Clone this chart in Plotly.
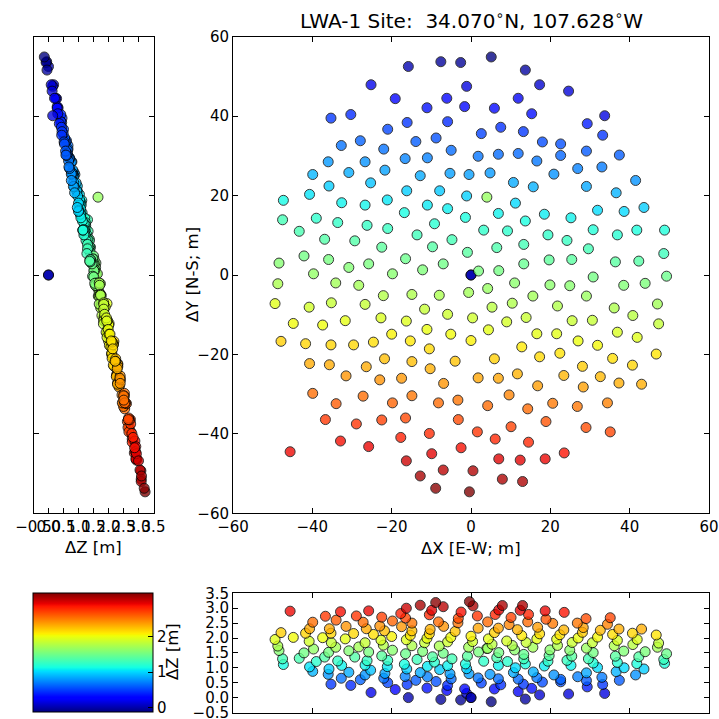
import plotly.graph_objects as go

# ---- data: antenna stand offsets (m) ----
x_ew = [
    -15.8, -7.6, -2.6, -25.2, -19.1, -11.1, -6.1, -1.1, -1.6, -35.3,
    -30.3, -21.0, -16.1, -5.9, -32.7, -27.9, -22.0, -13.9, -8.8, -5.0,
    -36.0, -26.7, -16.6, -11.0, -39.9, -30.8, -21.7, -12.8, -5.3, -0.5,
    -35.8, -25.3, -40.7, -47.3, -32.6, -26.7, -21.1, -16.2, -7.9, -1.1,
    -16.8, -11.0, -5.9, -1.4, -47.5, -39.0, -33.6, -26.2, -21.0, -43.3,
    -13.6, -9.2, -36.9, -29.3, -22.5, -9.7, -4.8, -0.9, -48.4, -42.1,
    -35.9, -30.8, -25.8, -16.5, -7.0, -12.2, -19.8, -39.7, 0.0, 0.0,
    5.1, 13.7, 17.3, 24.6, 11.9, 5.9, 15.3, 33.7, 29.3, 2.6,
    7.5, 13.2, 33.2, 18.0, 22.6, 1.8, 6.9, 11.9, 16.6, 22.6,
    29.1, 37.4, 4.8, 10.7, 15.7, 20.9, 26.9, 33.0, 29.1, 41.5,
    36.6, 4.0, 11.2, 6.9, 13.7, 18.5, 25.2, 31.9, 38.6, 43.6,
    3.2, 9.2, 19.4, 24.2, 30.8, 36.9, 41.8, 48.8, 6.5, 13.3,
    29.6, 48.6, 1.9, 7.0, 13.3, 19.7, 25.4, 36.4, 42.3, 49.3,
    30.8,
    -0.6, 4.2, 11.0, 19.9, 24.9, 29.1, 38.5, 43.9, 15.6, 5.3,
    10.4, 21.8, 36.1, 40.8, 47.0, 0.4, 9.0, 13.9, 25.5, 30.6,
    47.3, 4.4, 0.0, 16.6, 21.6, 27.0, 31.9, 36.9, 41.9, 46.7,
    5.9, 12.8, 17.3, 22.4, 28.1, 35.7, 40.7, 1.8, 6.9, 11.7,
    16.8, 23.4, 28.3, 32.6, 37.3, 43.0, 9.6, 4.2, 14.3, 20.6,
    26.8, 34.4, 18.9, 10.1, 1.6, 6.1, 14.5, 29.0, 35.1, 23.5,
    7.0, 12.4, 18.7, 0.5, 7.9, 13.0, -0.4,
    -48.7, -34.1, -28.3, -22.1, -14.9, -8.0, -49.4, -40.8, -35.2, -26.7,
    -11.7, -5.9, -44.8, -37.4, -31.7, -22.7, -16.3, -11.1, -5.1, -20.0,
    -47.9, -41.7, -35.3, -29.6, -24.6, -15.3, -10.5, -40.7, -35.7, -31.5,
    -26.4, -21.8, -14.9, -10.3, -4.0, -23.0, -17.5, -6.9, -39.9, -34.0,
    -27.2, -19.8, -14.9, -8.2, -3.3, -36.7, -28.9, -22.5, -16.5, -3.2,
    -10.5, -32.9, -25.8, -17.7, -45.6, -9.9, -2.5, -16.3, -7.0, -12.8,
    -8.9,
]
y_ns = [
    52.5, 53.7, 53.5, 47.9, 44.4, 42.1, 44.5, 47.5, 42.4, 39.5,
    40.4, 36.7, 38.4, 38.6, 32.6, 33.8, 31.7, 33.6, 34.5, 31.4,
    28.5, 28.5, 29.3, 29.5, 25.3, 25.8, 26.4, 25.0, 25.6, 25.3,
    22.4, 23.2, 20.3, 18.8, 18.2, 17.6, 18.9, 21.2, 21.2, 19.9,
    15.7, 17.6, 16.7, 14.5, 13.9, 14.3, 13.2, 12.5, 11.7, 11.0,
    10.1, 12.9, 9.0, 8.6, 7.0, 7.1, 8.9, 5.7, 3.0, 4.8,
    3.9, 1.9, 2.8, 4.1, 2.8, 1.3, 0.3, 0.3, 0.0, 0.0,
    54.9, 51.6, 47.9, 46.3, 44.5, 42.0, 40.6, 40.1, 38.1, 35.6,
    37.2, 36.1, 35.2, 33.5, 33.0, 29.9, 30.4, 30.6, 28.7, 30.1,
    31.2, 30.2, 25.7, 23.3, 22.2, 25.4, 26.8, 27.2, 22.3, 23.8,
    20.7, 19.6, 18.1, 15.5, 13.6, 15.3, 14.4, 16.3, 16.0, 17.0,
    11.3, 11.1, 10.1, 8.7, 11.4, 10.1, 11.3, 11.3, 6.9, 7.7,
    6.6, 5.4, 1.0, 1.1, 2.8, 3.8, 3.9, 3.3, 3.5, -0.3,
    -0.5,
    -4.4, -3.4, -2.0, -2.5, -2.7, -5.3, -2.6, -2.1, -5.3, -8.1,
    -7.1, -7.8, -8.3, -10.2, -7.3, -10.8, -11.8, -10.7, -11.5, -11.4,
    -12.3, -13.8, -16.5, -14.8, -14.8, -16.6, -17.7, -14.4, -15.7, -19.9,
    -21.1, -18.1, -20.6, -19.7, -23.0, -21.0, -22.7, -25.9, -26.0, -24.9,
    -27.9, -25.3, -28.2, -25.6, -27.2, -27.5, -30.2, -32.9, -33.7, -32.3,
    -33.1, -32.2, -36.9, -38.2, -39.5, -41.3, -42.1, -38.4, -39.5, -44.8,
    -46.3, -46.6, -46.3, -49.3, -51.4, -52.0, -54.6,
    -2.2, -2.0, -2.6, -5.2, -4.9, -5.1, -7.2, -8.1, -7.0, -7.4,
    -8.6, -9.9, -12.2, -12.6, -11.5, -10.8, -11.6, -13.7, -14.9, -14.9,
    -16.7, -17.3, -17.6, -17.6, -16.9, -16.6, -18.6, -22.3, -22.6, -25.4,
    -23.1, -21.1, -21.8, -23.6, -21.7, -26.4, -26.0, -27.3, -29.8, -32.4,
    -30.5, -32.2, -30.4, -32.2, -31.5, -36.4, -37.5, -36.5, -36.0, -36.4,
    -39.9, -41.8, -43.2, -40.9, -44.5, -45.0, -43.5, -46.8, -49.1, -50.6,
    -53.7,
]
z_el = [
    0.00, -0.06, -0.08, 0.17, 0.27, 0.32, 0.24, 0.14, 0.29, 0.45,
    0.41, 0.50, 0.44, 0.41, 0.65, 0.60, 0.65, 0.58, 0.54, 0.63,
    0.78, 0.76, 0.71, 0.70, 0.88, 0.85, 0.81, 0.84, 0.80, 0.80,
    0.96, 0.92, 1.03, 1.11, 1.08, 1.09, 1.04, 0.96, 0.94, 0.97,
    1.12, 1.05, 1.07, 1.13, 1.30, 1.21, 1.23, 1.24, 1.25, 1.32,
    1.28, 1.19, 1.36, 1.36, 1.40, 1.37, 1.30, 1.39, 1.58, 1.50,
    1.52, 1.57, 1.53, 1.47, 1.49, 1.55, 1.59, 1.63, 0.00, 0.00,
    -0.14, -0.05, 0.09, 0.12, 0.20, 0.29, 0.31, 0.14, 0.36, 0.49,
    0.43, 0.45, 0.44, 0.52, 0.53, 0.66, 0.63, 0.62, 0.67, 0.61,
    0.57, 0.58, 0.78, 0.84, 0.86, 0.76, 0.70, 0.68, 0.83, 0.76,
    0.87, 1.65, 1.00, 1.08, 1.13, 1.06, 1.08, 1.01, 1.00, 0.96,
    1.22, 1.21, 1.22, 1.25, 1.16, 1.18, 1.14, 1.15, 1.34, 1.30,
    1.30, 1.28, 1.53, 1.51, 1.45, 1.41, 1.39, 1.39, 1.37, 1.47,
    1.51,
    1.69, 1.65, 1.60, 1.60, 1.59, 1.66, 1.56, 1.54, 1.69, 1.79,
    1.75, 1.75, 1.74, 1.78, 1.69, 1.88, 1.90, 1.85, 1.85, 1.84,
    1.83, 1.97, 2.06, 1.97, 1.96, 2.00, 2.03, 1.92, 1.95, 2.10,
    2.18, 2.08, 2.14, 2.11, 2.19, 2.12, 2.16, 2.33, 2.33, 2.28,
    2.36, 2.27, 2.35, 2.26, 2.30, 2.30, 2.45, 2.54, 2.54, 2.49,
    2.50, 2.46, 2.63, 2.69, 2.74, 2.79, 2.79, 2.65, 2.68, 2.86,
    2.94, 2.93, 2.91, 3.08, 3.09, 3.09, 3.22,
    1.73, 1.69, 1.70, 1.76, 1.74, 1.73, 1.95, 1.89, 1.84, 1.84,
    1.84, 1.87, 2.02, 2.01, 1.97, 1.93, 1.94, 1.99, 2.02, 2.05,
    2.18, 2.16, 2.16, 2.15, 2.12, 2.09, 2.14, 2.31, 2.31, 2.39,
    2.31, 2.24, 2.24, 2.29, 2.22, 2.40, 2.38, 2.39, 2.53, 2.60,
    2.53, 2.57, 2.50, 2.54, 2.51, 2.73, 2.74, 2.70, 2.67, 2.66,
    2.78, 2.88, 2.91, 2.82, 2.90, 2.93, 2.87, 3.00, 3.05, 3.10,
    3.19,
]

title_text = "LWA-1 Site:  34.070<sup>∘</sup>N, 107.628<sup>∘</sup>W"
xy_ticks = [-60, -40, -20, 0, 20, 40, 60]
z_ticks = [-0.5, 0.0, 0.5, 1.0, 1.5, 2.0, 2.5, 3.0, 3.5]
cb_ticks = [0, 1, 2]

# ---- styling ----
W = H = 719
FONT = "DejaVu Sans"
TICK = 15
LAB = 16.5

def fx(px):
    return px / W

def fy(py):
    return (H - py) / H

jet = [
    [0.0, "rgb(0,0,128)"], [0.11, "rgb(0,0,255)"], [0.125, "rgb(0,0,255)"],
    [0.34, "rgb(0,219,255)"], [0.35, "rgb(0,230,247)"], [0.375, "rgb(21,255,226)"],
    [0.64, "rgb(239,255,8)"], [0.65, "rgb(247,245,0)"], [0.66, "rgb(255,236,0)"],
    [0.89, "rgb(255,19,0)"], [0.91, "rgb(232,0,0)"], [1.0, "rgb(128,0,0)"],
]

marker = dict(color=z_el, coloraxis="coloraxis", size=10,
              line=dict(color="black", width=1), opacity=0.78)

fig = go.Figure()
fig.add_trace(go.Scatter(x=x_ew, y=y_ns, mode="markers", marker=marker,
                         xaxis="x", yaxis="y", showlegend=False))
fig.add_trace(go.Scatter(x=z_el, y=y_ns, mode="markers", marker=marker,
                         xaxis="x2", yaxis="y2", showlegend=False))
fig.add_trace(go.Scatter(x=x_ew, y=z_el, mode="markers", marker=marker,
                         xaxis="x3", yaxis="y3", showlegend=False))

ax_common = dict(showline=True, linecolor="black", linewidth=1, mirror="ticks",
                 ticks="inside", ticklen=5, tickcolor="black", tickwidth=1,
                 showgrid=False, zeroline=False, automargin=False,
                 ticklabeloverflow="allow",
                 tickfont=dict(family=FONT, size=TICK, color="black"))

main_x = [fx(233), fx(709)]
main_y = [fy(513.3), fy(36.7)]
left_x = [fx(33.5), fx(153.5)]
bot_y = [fy(712.5), fy(593.3)]

fig.update_layout(
    width=W, height=H, margin=dict(l=0, r=0, t=0, b=0, autoexpand=False),
    paper_bgcolor="white", plot_bgcolor="white",
    font=dict(family=FONT, color="black"),
    xaxis=dict(domain=main_x, range=[-60, 60], tickvals=xy_ticks, anchor="y", **ax_common),
    yaxis=dict(domain=main_y, range=[-60, 60], tickvals=xy_ticks, anchor="x", **ax_common),
    xaxis2=dict(domain=left_x, range=[-0.5, 3.5], tickvals=z_ticks, tickformat=".1f",
                tickangle=0, anchor="y2", **ax_common),
    yaxis2=dict(domain=main_y, range=[-60, 60], tickvals=xy_ticks, showticklabels=False,
                anchor="x2", **ax_common),
    xaxis3=dict(domain=main_x, range=[-60, 60], tickvals=xy_ticks, showticklabels=False,
                anchor="y3", **ax_common),
    yaxis3=dict(domain=bot_y, range=[-0.5, 3.5], tickvals=z_ticks, tickformat=".1f",
                anchor="x3", **ax_common),
    coloraxis=dict(
        colorscale=jet, cmin=min(z_el), cmax=max(z_el),
        colorbar=dict(
            x=fx(33.3), xanchor="left", y=(bot_y[0] + bot_y[1]) / 2, yanchor="middle",
            len=119.2, lenmode="pixels", thickness=120, thicknessmode="pixels",
            xpad=0, ypad=0, outlinewidth=1, outlinecolor="black",
            ticks="inside", ticklen=5, tickcolor="black", tickvals=cb_ticks,
            tickfont=dict(family=FONT, size=TICK, color="black"),
        ),
    ),
    annotations=[
        dict(text=title_text, x=fx(471), y=fy(20), xref="paper", yref="paper",
             showarrow=False, xanchor="center", yanchor="middle",
             font=dict(family=FONT, size=20, color="black")),
        dict(text="ΔX [E-W; m]", x=fx(471), y=fy(548), xref="paper", yref="paper",
             showarrow=False, xanchor="center", yanchor="middle",
             font=dict(family=FONT, size=LAB, color="black")),
        dict(text="ΔY [N-S; m]", x=fx(192), y=fy(275), xref="paper", yref="paper",
             showarrow=False, xanchor="center", yanchor="middle", textangle=-90,
             font=dict(family=FONT, size=LAB, color="black")),
        dict(text="ΔZ [m]", x=fx(93), y=fy(547), xref="paper", yref="paper",
             showarrow=False, xanchor="center", yanchor="middle",
             font=dict(family=FONT, size=LAB, color="black")),
        dict(text="ΔZ [m]", x=fx(172), y=fy(652), xref="paper", yref="paper",
             showarrow=False, xanchor="center", yanchor="middle", textangle=-90,
             font=dict(family=FONT, size=LAB, color="black")),
    ],
)

fig.write_html("out.html")
